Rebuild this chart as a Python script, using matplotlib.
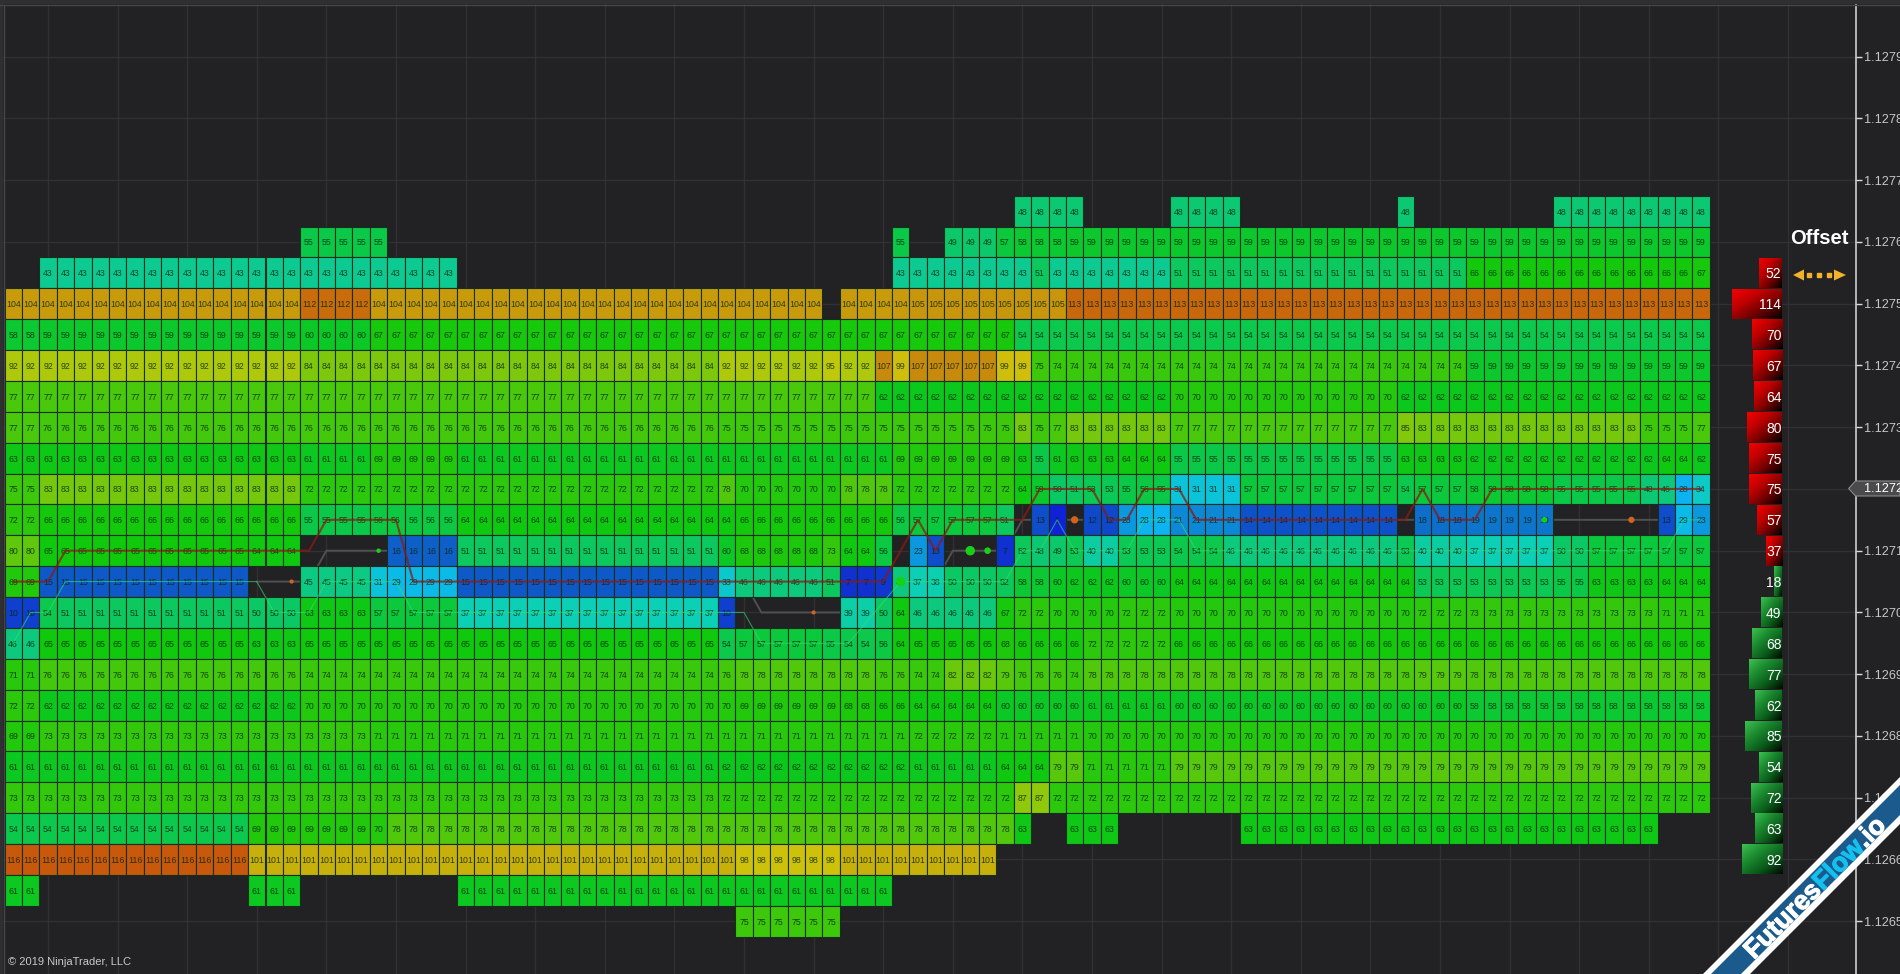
import matplotlib
matplotlib.use("Agg")
import matplotlib.patheffects as pe
import matplotlib.pyplot as plt
import numpy as np
from matplotlib.colors import LinearSegmentedColormap
from matplotlib.lines import Line2D
from matplotlib.patches import Polygon, Rectangle

# footprint rows, top to bottom: (volume, run of columns), None is an empty cell
row_prices = [1.12765, 1.12760, 1.12755, 1.12750, 1.12745, 1.12740, 1.12735, 1.12730,
              1.12725, 1.12720, 1.12715, 1.12710, 1.12705, 1.12700, 1.12695, 1.12690,
              1.12685, 1.12680, 1.12675, 1.12670, 1.12665, 1.12660, 1.12655, 1.12650]

row_12765 = [(None, 58), (48, 4), (None, 5), (48, 4), (None, 9), (48, 1), (None, 8), (48, 9)]
row_12760 = [(None, 17), (55, 5), (None, 29), (55, 1), (None, 2), (49, 3), (57, 1), (58, 3), (59, 37)]
row_12755 = [(None, 2), (43, 24), (None, 25), (43, 8), (51, 1), (43, 7), (51, 17), (66, 13), (67, 1)]
row_12750 = [(104, 17), (112, 4), (104, 26), (None, 1), (104, 4), (105, 9), (113, 37)]
row_12745 = [(58, 2), (59, 15), (60, 4), (67, 37), (54, 40)]
row_12740 = [(92, 17), (84, 24), (92, 6), (95, 1), (92, 2), (107, 1), (99, 1), (107, 5), (99, 2),
             (75, 1), (74, 24), (59, 14)]
row_12735 = [(77, 50), (62, 17), (70, 13), (62, 18)]
row_12730 = [(77, 2), (76, 39), (75, 17), (83, 1), (75, 1), (77, 1), (83, 6), (77, 13), (85, 1),
             (83, 13), (75, 3), (77, 1)]
row_12725 = [(63, 17), (61, 4), (69, 5), (61, 25), (69, 7), (63, 1), (55, 1), (61, 1), (63, 3),
             (64, 3), (55, 13), (63, 4), (62, 11), (64, 2), (62, 1)]
row_12720 = [(75, 2), (83, 15), (72, 24), (78, 1), (70, 6), (78, 3), (72, 7), (64, 1), (59, 1),
             (50, 1), (51, 1), (53, 2), (55, 1), (56, 1), (55, 1), (31, 4), (57, 9), (54, 1),
             (57, 3), (58, 5), (55, 5), (48, 1), (46, 1), (28, 1), (34, 1)]
row_12715 = [(72, 2), (66, 15), (55, 4), (56, 5), (64, 16), (66, 9), (56, 1), (57, 5), (51, 1),
             (None, 1), (13, 1), (1, 1), (None, 1), (12, 2), (23, 1), (28, 2), (21, 4), (14, 9),
             (None, 1), (18, 3), (19, 5), (None, 6), (13, 1), (29, 1), (23, 1)]
row_12710 = [(80, 2), (65, 12), (64, 3), (None, 5), (16, 4), (51, 15), (60, 1), (68, 5), (73, 1),
             (64, 2), (56, 1), (None, 1), (23, 1), (13, 1), (None, 3), (7, 1), (52, 1), (48, 1),
             (49, 1), (53, 1), (40, 2), (53, 3), (54, 3), (46, 10), (53, 1), (40, 3), (37, 5),
             (50, 2), (57, 7)]
row_12705 = [(69, 2), (15, 12), (None, 3), (45, 4), (31, 1), (29, 4), (15, 15), (33, 1), (46, 5),
             (51, 1), (7, 2), (9, 1), (46, 1), (37, 1), (38, 1), (50, 3), (52, 1), (58, 2), (60, 1),
             (62, 3), (60, 3), (64, 14), (53, 8), (55, 2), (63, 4), (64, 3)]
row_12700 = [(10, 2), (54, 1), (51, 11), (50, 3), (63, 4), (57, 5), (37, 15), (10, 1), (None, 6),
             (39, 2), (50, 1), (64, 1), (46, 5), (67, 1), (72, 2), (70, 4), (72, 3), (70, 14),
             (72, 3), (73, 11), (71, 3)]
row_12695 = [(46, 2), (65, 12), (63, 3), (65, 24), (54, 1), (57, 5), (55, 1), (54, 2), (56, 1),
             (64, 1), (65, 5), (68, 1), (66, 4), (72, 5), (66, 31)]
row_12690 = [(71, 2), (76, 15), (74, 24), (76, 1), (78, 8), (76, 2), (74, 2), (82, 3), (79, 1),
             (76, 3), (74, 1), (78, 19), (79, 3), (78, 14)]
row_12685 = [(72, 2), (62, 15), (70, 25), (69, 6), (68, 2), (66, 2), (64, 5), (60, 5), (61, 5),
             (60, 17), (58, 14)]
row_12680 = [(69, 2), (73, 19), (71, 31), (72, 5), (71, 5), (70, 36)]
row_12675 = [(61, 41), (62, 11), (61, 5), (64, 3), (79, 2), (71, 5), (79, 31)]
row_12670 = [(73, 41), (72, 17), (87, 2), (72, 38)]
row_12665 = [(54, 14), (69, 7), (70, 1), (78, 36), (63, 1), (None, 2), (63, 3), (None, 7), (63, 24),
             (None, 3)]
row_12660 = [(116, 14), (101, 28), (98, 6), (101, 9), (None, 41)]
row_12655 = [(61, 2), (None, 12), (61, 3), (None, 9), (61, 25), (None, 47)]
row_12650 = [(None, 42), (75, 6), (None, 50)]

# volume to colour anchors
color_values = [0, 7, 15, 19, 23, 28, 31, 37, 43, 48, 55, 61, 65, 72, 78, 84, 92, 95, 99, 101, 104, 107, 113, 116]
color_stops = ["#1020d8", "#1030d0", "#0f58c8", "#0e78cc", "#0c9ae0", "#0cb4f0", "#0cc4d8", "#0cd0b4",
               "#0cca90", "#0cc870", "#0cc848", "#0cc820", "#10c80c", "#2cc80c", "#50c80c", "#7cc80c",
               "#acc80c", "#c0c80c", "#d0c00c", "#c8b00c", "#c89c0c", "#c88c0c", "#c8680c", "#c8580c"]

# overlay lines
red_x = [0, 2, 3, 17, 18, 22, 23, 50, 52, 53, 54, 58, 59, 62, 63, 64, 65, 67, 68, 80, 81, 82, 84, 85, 97]
red_y = [1.12705, 1.12705, 1.1271, 1.1271, 1.12715, 1.12715, 1.12705, 1.12705, 1.12715, 1.1271, 1.12715,
         1.12715, 1.1272, 1.1272, 1.12715, 1.12715, 1.1272, 1.1272, 1.12715, 1.12715, 1.1272, 1.12715,
         1.12715, 1.1272, 1.1272]
green_x = [0, 1, 2, 3, 14, 15, 17, 18, 22, 23, 42, 43, 48, 51, 57, 58, 59, 60, 61, 64, 65, 67, 68, 95, 96, 97]
green_y = [1.12695, 1.127, 1.127, 1.12705, 1.12705, 1.127, 1.127, 1.12705, 1.12705, 1.127, 1.127, 1.12695,
           1.12695, 1.12705, 1.12705, 1.1271, 1.1271, 1.12715, 1.1271, 1.1271, 1.12715, 1.12715, 1.1271,
           1.1271, 1.12715, 1.12715]
grey_x = [14, 17, 18, 22, 23, 42, 43, 48, 49, 53, 54, 57, 58, 97]
grey_y = [1.12705, 1.12705, 1.1271, 1.1271, 1.12705, 1.12705, 1.127, 1.127, 1.12705, 1.12705, 1.1271, 1.1271,
          1.12715, 1.12715]

green_dot_x = [21, 51, 55, 56, 88]
green_dot_y = [1.1271, 1.12705, 1.1271, 1.1271, 1.12715]
green_dot_size = [5, 34, 34, 14, 10]
orange_dot_x = [16, 46, 61, 93]
orange_dot_y = [1.12705, 1.127, 1.12715, 1.12715]
orange_dot_size = [4, 4, 18, 12]

# side volume bars
red_bar_prices = [1.12755, 1.1275, 1.12745, 1.1274, 1.12735, 1.1273, 1.12725, 1.1272, 1.12715, 1.1271]
red_bar_values = [52, 114, 70, 67, 64, 80, 75, 75, 57, 37]
green_bar_prices = [1.12705, 1.127, 1.12695, 1.1269, 1.12685, 1.1268, 1.12675, 1.1267, 1.12665, 1.1266]
green_bar_values = [18, 49, 68, 77, 62, 85, 54, 72, 63, 92]

price_ticks = [1.1265, 1.1266, 1.1267, 1.1268, 1.1269, 1.127, 1.1271, 1.1272, 1.1273, 1.1274, 1.1275,
               1.1276, 1.1277, 1.1278, 1.1279]
grid_columns = [2, 6, 10, 14, 18, 22, 26, 30, 34, 38, 42, 46, 50, 54, 58, 62, 66, 70, 74, 78, 82, 86,
                90, 94, 98, 102]

rows = [row_12765, row_12760, row_12755, row_12750, row_12745, row_12740, row_12735, row_12730,
        row_12725, row_12720, row_12715, row_12710, row_12705, row_12700, row_12695, row_12690,
        row_12685, row_12680, row_12675, row_12670, row_12665, row_12660, row_12655, row_12650]

W, H = 1900, 974
BG = "#222224"
TICK = 0.00005
CELL_FONT = ["Liberation Sans", "DejaVu Sans"]


def col_of(px):
    return (px - 13.2) / 17.4


def price_of(py):
    return 1.1275 + (303.7 - py) / 617500


def fx(px):
    return px / W


def fy(py):
    return 1 - py / H


def expand(row):
    out = []
    for value, run in row:
        out += [value] * run
    return out


cmap = LinearSegmentedColormap.from_list(
    "footprint", [(v / 116, c) for v, c in zip(color_values, color_stops)]
)

fig = plt.figure(figsize=(W / 100, H / 100), dpi=100, facecolor=BG)
ax = fig.add_axes([0, 0, 1855.5 / W, 1], facecolor=BG)

for price, row in zip(row_prices, rows):
    values = expand(row)
    cols = [c for c, v in enumerate(values) if v is not None]
    vols = [values[c] for c in cols]
    ax.bar(cols, TICK, bottom=price - TICK / 2, width=1, color=[cmap(v / 116) for v in vols],
           edgecolor="#14301a", linewidth=0.8, zorder=2)
    for c, vol in zip(cols, vols):
        ax.text(c, price, str(vol), fontsize=6.3, family=CELL_FONT, color="#06240c",
                alpha=0.8, ha="center", va="center_baseline", zorder=3)

ax.plot(grey_x, grey_y, color="#505052", lw=1.4, zorder=1.5)
ax.plot(green_x, green_y, color="#35e070", lw=0.8, alpha=0.6, zorder=4)
ax.plot(red_x, red_y, color="#8c1a12", lw=1.5, alpha=0.75, zorder=5)
ax.scatter(green_dot_x, green_dot_y, s=green_dot_size, color="#18d018", zorder=5)
ax.scatter(orange_dot_x, orange_dot_y, s=orange_dot_size, color="#d0641c", zorder=5)

# gradient bars at the right of the grid
bar_right = col_of(1782)
unit = 0.435 / 17.4
u, v = np.meshgrid(np.linspace(0, 1, 60), np.linspace(0, 1, 30))
shade = (u + v) / 2
red_cmap = LinearSegmentedColormap.from_list("reds", ["#f40000", "#c00000", "#6a0000", "#000000"])
green_cmap = LinearSegmentedColormap.from_list("greens", ["#3cc050", "#1c8c30", "#0a5a1a", "#000a00"])

for prices, values, bar_cmap in [(red_bar_prices, red_bar_values, red_cmap),
                                 (green_bar_prices, green_bar_values, green_cmap)]:
    for price, value in zip(prices, values):
        ax.imshow(shade, cmap=bar_cmap, aspect="auto", origin="upper", zorder=2, vmin=0, vmax=1,
                  extent=(bar_right - value * unit, bar_right,
                          price - TICK * 0.48, price + TICK * 0.48))
        ax.text(bar_right - 0.03, price, str(value), color="white", fontsize=10, ha="right",
                va="center_baseline", family=CELL_FONT, zorder=3)

ax.set_xlim(col_of(0), col_of(1855.5))
ax.set_ylim(price_of(H), price_of(0))
ax.set_xticks(grid_columns)
ax.set_yticks(price_ticks)
ax.set_yticklabels([f"{p:.5f}" for p in price_ticks], family=CELL_FONT)
ax.yaxis.tick_right()
ax.tick_params(axis="x", length=0, labelbottom=False)
ax.tick_params(axis="y", right=True, length=4.3, width=1, color="#d8d8d8", labelcolor="#c6c6c6",
               labelsize=9.2, pad=1.5, direction="out")
ax.grid(True, color="#313133", lw=1)
ax.set_axisbelow(True)
for side in ("left", "top", "bottom"):
    ax.spines[side].set_visible(False)
ax.spines["right"].set_color("#dcdcdc")
ax.spines["right"].set_linewidth(1.1)
ax.spines["right"].set_bounds(price_of(H), price_of(5))

# window frame at top and left
fig.add_artist(Rectangle((0, fy(4)), 1, 4 / H, transform=fig.transFigure, color="#2f2f31", lw=0, zorder=4))
fig.add_artist(Rectangle((0, 0), 3 / W, 1, transform=fig.transFigure, color="#2f2f31", lw=0, zorder=4))
fig.add_artist(Line2D([0, 1], [fy(4.5)] * 2, transform=fig.transFigure, color="#464648", lw=1, zorder=4))
fig.add_artist(Line2D([fx(3.5)] * 2, [0, fy(4.5)], transform=fig.transFigure, color="#464648", lw=1, zorder=4))

fig.text(fx(8), fy(962), "© 2019 NinjaTrader, LLC", color="#c8c8c8", fontsize=8, family=CELL_FONT,
         va="center")

# current price marker
marker_px = [(1848.6, 488.5), (1855.5, 481), (1900, 481), (1900, 496), (1855.5, 496)]
fig.add_artist(Polygon([(fx(a), fy(b)) for a, b in marker_px], transform=fig.transFigure,
                       facecolor="#4a4a4c", edgecolor="#8a8a8a", lw=0.8, zorder=4))
fig.text(fx(1864), fy(488.7), "1.12720", color="white", fontsize=9.2, family=CELL_FONT, va="center", zorder=5)

# offset control
fig.text(fx(1819.5), fy(239), "Offset", color="white", fontsize=14.5, fontweight="bold", family=CELL_FONT,
         ha="center", va="center")
arrow_color = "#f2b22a"
for tip, back in [(1793, 1804), (1846, 1834)]:
    head = [(tip, 275), (back, 269.5), (back, 280.5)]
    fig.add_artist(Polygon([(fx(a), fy(b)) for a, b in head], transform=fig.transFigure,
                           color=arrow_color, lw=0))
fig.add_artist(Line2D([fx(1809), fx(1819), fx(1829)], [fy(275)] * 3, transform=fig.transFigure, ls="none",
                      marker="s", ms=3.2, color=arrow_color))

# corner ribbon
def ribbon(sum_a, sum_b):
    pts = [(sum_a - H, H), (W, sum_a - W), (W, sum_b - W), (sum_b - H, H)]
    return [(fx(a), fy(b)) for a, b in pts]


fig.add_artist(Polygon(ribbon(2677, 2724), transform=fig.transFigure, color="white", lw=0, zorder=6))
fig.add_artist(Polygon(ribbon(2685, 2715), transform=fig.transFigure, color="#1a5a8c", lw=0, zorder=7))
for word, x0, y0, word_color in [("Futures", 1754, 960, "white"), ("Flow", 1822.7, 891.3, "#14c0ee"),
                                 (".io", 1865.4, 848.6, "white")]:
    fig.text(fx(x0), fy(y0), word, color=word_color, fontsize=19, fontweight="bold", family=CELL_FONT,
             rotation=45, rotation_mode="anchor", ha="left", va="baseline", zorder=8,
             path_effects=[pe.withStroke(linewidth=0.8, foreground=word_color)])

fig.savefig("out.png", dpi=100, facecolor=BG)
